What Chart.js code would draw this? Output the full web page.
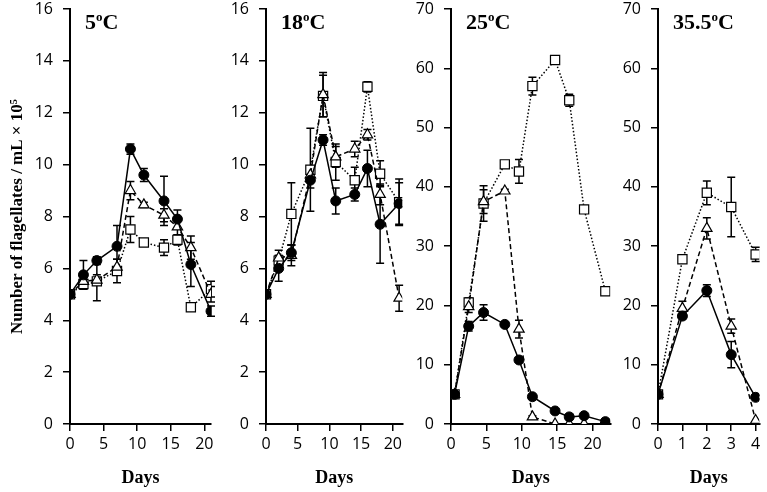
<!DOCTYPE html>
<html>
<head>
<meta charset="utf-8">
<script src="https://cdn.jsdelivr.net/npm/chart.js@4.4.0/dist/chart.umd.min.js"></script>
<style>
  html, body { margin: 0; padding: 0; background: #fff; }
  #wrap { position: relative; width: 767px; height: 492px; overflow: hidden; }
  #wrap canvas { position: absolute; top: 0; }
</style>
</head>
<body>
<div id="wrap">
  <canvas id="c5"></canvas>
  <canvas id="c18"></canvas>
  <canvas id="c25"></canvas>
  <canvas id="c35"></canvas>
</div>
<script>
// ---- data ----
// 5 oC
var days5 = [0, 2, 4, 7, 9, 11, 14, 16, 18, 21];
var circ5 = [5, 5.75, 6.3, 6.85, 10.6, 9.6, 8.6, 7.9, 6.15, 4.35];
var circ5Err = [0, 0.55, 0.15, 0.8, 0.2, 0.25, 0.95, 0.35, 0.85, 0.2];
var tri5 = [5, 5.5, 5.55, 6.05, 9.0, 8.45, 8.05, 7.6, 6.8, 5.0];
var tri5Err = [0, 0.2, 0.2, 0.3, 0.35, 0.1, 0.25, 0.3, 0.45, 0.3];
var sq5 = [5, 5.4, 5.5, 5.9, 7.5, 7.0, 6.8, 7.1, 4.5, 5.2];
var sq5Err = [0, 0.2, 0.75, 0.45, 0.5, 0.1, 0.3, 0.2, 0.1, 0.3];

// 18 oC
var days18 = [0, 2, 4, 7, 9, 11, 14, 16, 18, 21];
var circ18 = [5, 6.0, 6.6, 9.4, 10.95, 8.6, 8.85, 9.85, 7.7, 8.5];
var circ18Err = [0, 0.5, 0.3, 0.3, 0.2, 0.5, 0.25, 0.7, 1.5, 0.8];
var tri18 = [5, 6.4, 6.5, 9.6, 12.7, 10.3, 10.6, 11.15, 8.85, 4.85];
var tri18Err = [0, 0.3, 0.4, 0.2, 0.85, 0.4, 0.3, 0.2, 0.4, 0.5];
var sq18 = [5, 6.3, 8.1, 9.8, 12.65, 10.1, 9.4, 13.0, 9.65, 8.55];
var sq18Err = [0, 0.2, 1.2, 1.6, 0.8, 0.7, 0.5, 0.2, 0.5, 0.9];

// 25 oC (points sit half a day to the right in the figure)
var days25 = [0.5, 2.5, 4.6, 7.6, 9.6, 11.5, 14.7, 16.7, 18.8, 21.8];
var circ25 = [5, 16.5, 18.8, 16.8, 10.8, 4.6, 2.2, 1.2, 1.4, 0.4];
var circ25Err = [0, 0.8, 1.3, 0.3, 0.3, 0.3, 0.2, 0.2, 0.2, 0.2];
var tri25 = [5, 19.8, 37.5, 39.3, 16, 1.2, 0, 0, 0, 0];
var tri25Err = [0, 1, 2, 0.3, 1.5, 0.2, 0, 0, 0, 0];
var sq25 = [5, 20.5, 37.2, 43.8, 42.6, 57, 61.4, 54.6, 36.2, 22.4];
var sq25Err = [0, 0.8, 3, 0.3, 2, 1.5, 0.3, 1, 0.5, 0.2];

// 35.5 oC
var days35 = [0, 1, 2, 3, 4];
var circ35 = [5, 18.2, 22.5, 11.7, 4.5];
var circ35Err = [0, 0.5, 1, 2.2, 0.3];
var tri35 = [5, 19.5, 33, 16.5, 0.6];
var tri35Err = [0, 1.2, 1.8, 1.2, 0];
var sq35 = [5, 27.8, 39, 36.6, 28.6];
var sq35Err = [0, 0.3, 2, 5, 1.2];

var yTitle = 'Number of flagellates / mL \u00d7 10\u2075';

// ---- helpers ----
function pts(xs, ys) {
	var out = [];
	for (var i = 0; i < xs.length; i++) out.push({x: xs[i], y: ys[i]});
	return out;
}

// vertical error bars with caps, drawn under the markers
var errorBars = {
	id: 'errorBars',
	beforeDatasetsDraw: function(chart) {
		var ctx = chart.ctx, ys = chart.scales.y;
		ctx.save();
		ctx.strokeStyle = '#000';
		ctx.lineWidth = 1.5;
		chart.data.datasets.forEach(function(ds, i) {
			var meta = chart.getDatasetMeta(i);
			meta.data.forEach(function(pt, j) {
				var e = ds.errors[j];
				if (!e) return;
				var v = ds.data[j].y;
				var top = ys.getPixelForValue(v + e);
				var bot = ys.getPixelForValue(Math.max(0, v - e));
				var x = pt.x;
				ctx.beginPath();
				ctx.moveTo(x, top); ctx.lineTo(x, bot);
				ctx.moveTo(x - 4, top); ctx.lineTo(x + 4, top);
				ctx.moveTo(x - 4, bot); ctx.lineTo(x + 4, bot);
				ctx.stroke();
			});
		});
		ctx.restore();
	}
};

// "5ºC" style panel label with a raised small o
var panelTitle = {
	id: 'panelTitle',
	afterDraw: function(chart, args, opts) {
		var ctx = chart.ctx;
		var x = chart.chartArea.left + 15, y = 29;
		ctx.save();
		ctx.fillStyle = '#000';
		ctx.textBaseline = 'alphabetic';
		ctx.font = 'bold 22px "Liberation Serif", "Times New Roman", serif';
		ctx.fillText(opts.text, x, y);
		x += ctx.measureText(opts.text).width;
		ctx.font = 'bold 13px "Liberation Serif", "Times New Roman", serif';
		ctx.fillText('o', x, y - 8);
		x += ctx.measureText('o').width;
		ctx.font = 'bold 22px "Liberation Serif", "Times New Roman", serif';
		ctx.fillText('C', x, y);
		ctx.restore();
	}
};

function makePanel(id, left, width, yAxisWidth, padRight, cfg) {
	var canvas = document.getElementById(id);
	canvas.style.left = left + 'px';
	canvas.width = width;
	canvas.height = 492;
	canvas.style.width = width + 'px';
	canvas.style.height = '492px';

	var tickFont = {family: '"Open Sans", "DejaVu Sans", sans-serif', size: 16};
	var titleFont = {family: '"Liberation Serif", "Times New Roman", serif', size: 18, weight: 'bold'};

	var datasets = [
		{ // filled circles, solid line
			data: pts(cfg.days, cfg.circ), errors: cfg.circErr,
			borderColor: '#000', borderWidth: 1.5,
			pointStyle: 'circle', pointRadius: 5, pointBackgroundColor: '#000',
			pointBorderColor: '#000', pointBorderWidth: 1
		},
		{ // open triangles, dashed line
			data: pts(cfg.days, cfg.tri), errors: cfg.triErr,
			borderColor: '#000', borderWidth: 1.5, borderDash: [5, 3],
			pointStyle: 'triangle', pointRadius: 6, pointBackgroundColor: '#fff',
			pointBorderColor: '#000', pointBorderWidth: 1.2
		},
		{ // open squares, dotted line
			data: pts(cfg.days, cfg.sq), errors: cfg.sqErr,
			borderColor: '#000', borderWidth: 1.5, borderDash: [1.5, 2],
			pointStyle: 'rect', pointRadius: 6.5, pointBackgroundColor: '#fff',
			pointBorderColor: '#000', pointBorderWidth: 1.2
		}
	];

	var step = cfg.xStep;
	return new Chart(canvas, {
		type: 'line',
		data: {datasets: datasets},
		plugins: [errorBars, panelTitle],
		options: {
			responsive: false,
			animation: false,
			events: [],
			layout: {padding: {top: 9, right: padRight, bottom: 0, left: 0}},
			plugins: {
				legend: {display: false},
				tooltip: {enabled: false},
				panelTitle: {text: cfg.title}
			},
			scales: {
				x: {
					type: 'linear',
					min: 0, max: cfg.xMax,
					border: {display: true, color: '#000', width: 2},
					grid: {drawOnChartArea: false, drawTicks: true, tickLength: 7, color: '#000', lineWidth: 1.5},
					ticks: {stepSize: step, includeBounds: false, color: '#000', font: tickFont, padding: 4, maxRotation: 0, autoSkip: false},
					title: {display: true, text: 'Days', color: '#000', font: titleFont, padding: {top: 0, bottom: 3}},
					afterBuildTicks: function(s) {
						// whole steps only, up to the axis end
						var list = [];
						for (var v = 0; v <= cfg.xMax + 1e-9; v += step) list.push({value: v});
						s.ticks = list;
					},
					afterFit: function(s) { s.height = 68; s.paddingLeft = 0; s.paddingRight = 0; }
				},
				y: {
					min: 0, max: cfg.yMax,
					border: {display: true, color: '#000', width: 2},
					grid: {drawOnChartArea: false, drawTicks: true, tickLength: 7, color: '#000', lineWidth: 1.5},
					ticks: {stepSize: cfg.yStep, color: '#000', font: tickFont, padding: 10},
					title: {
						display: !!cfg.yTitle, text: cfg.yTitle || '', color: '#000',
						font: {family: '"Liberation Serif", "Times New Roman", serif', size: 17, weight: 'bold'},
						padding: {top: 7, bottom: 0}
					},
					afterFit: function(s) { s.width = yAxisWidth; s.paddingTop = 0; s.paddingBottom = 0; }
				}
			}
		}
	});
}

makePanel('c5', 0, 220, 70, 9, {
	title: '5', days: days5, circ: circ5, circErr: circ5Err, tri: tri5, triErr: tri5Err,
	sq: sq5, sqErr: sq5Err, xMax: 21, xStep: 5, yMax: 16, yStep: 2, yTitle: yTitle
});
makePanel('c18', 220, 190, 46, 5, {
	title: '18', days: days18, circ: circ18, circErr: circ18Err, tri: tri18, triErr: tri18Err,
	sq: sq18, sqErr: sq18Err, xMax: 21.5, xStep: 5, yMax: 16, yStep: 2
});
makePanel('c25', 410, 208, 41, 4, {
	title: '25', days: days25, circ: circ25, circErr: circ25Err, tri: tri25, triErr: tri25Err,
	sq: sq25, sqErr: sq25Err, xMax: 22.5, xStep: 5, yMax: 70, yStep: 10
});
makePanel('c35', 618, 149, 40, 5, {
	title: '35.5', days: days35, circ: circ35, circErr: circ35Err, tri: tri35, triErr: tri35Err,
	sq: sq35, sqErr: sq35Err, xMax: 4.15, xStep: 1, yMax: 70, yStep: 10
});
</script>
</body>
</html>
